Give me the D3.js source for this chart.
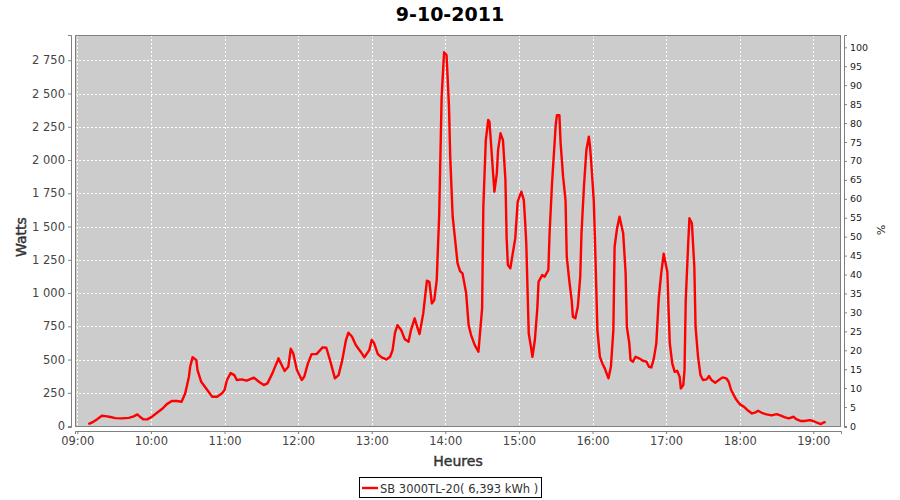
<!DOCTYPE html>
<html><head><meta charset="utf-8">
<script src="https://cdn.jsdelivr.net/npm/d3@7"></script>
<style>
html,body{margin:0;padding:0;background:#fff;}
svg{display:block;font-family:"DejaVu Sans",sans-serif;}
</style></head>
<body>
<svg id="chart" width="900" height="500"></svg>
<script>
const title = "9-10-2011";
const seriesName = "SB 3000TL-20( 6,393 kWh )";
const times = ["09:09","09:13","09:16","09:20","09:23","09:27","09:31","09:36","09:42","09:46","09:49","09:51","09:54","09:57","10:00","10:05","10:09","10:13","10:17","10:21","10:25","10:28","10:31","10:32","10:34","10:37","10:38","10:41","10:44","10:47","10:50","10:54","10:58","11:00","11:02","11:05","11:08","11:10","11:14","11:18","11:24","11:28","11:32","11:35","11:39","11:44","11:46","11:49","11:52","11:54","11:56","11:59","12:03","12:05","12:08","12:11","12:15","12:20","12:23","12:26","12:30","12:33","12:36","12:39","12:41","12:44","12:47","12:51","12:54","12:58","13:00","13:02","13:05","13:08","13:12","13:15","13:17","13:19","13:21","13:24","13:27","13:30","13:32","13:35","13:37","13:39","13:42","13:45","13:47","13:49","13:51","13:53","13:55","13:57","13:59","14:01","14:03","14:04","14:06","14:08","14:10","14:12","14:14","14:17","14:19","14:21","14:24","14:27","14:30","14:31","14:33","14:35","14:36","14:38","14:40","14:42","14:43","14:45","14:47","14:49","14:50","14:51","14:53","14:55","14:57","14:59","15:02","15:04","15:05","15:06","15:08","15:10","15:11","15:13","15:15","15:16","15:19","15:21","15:24","15:25","15:27","15:30","15:31","15:33","15:34","15:36","15:38","15:39","15:41","15:43","15:44","15:46","15:48","15:50","15:51","15:53","15:55","15:57","15:58","15:59","16:01","16:02","16:04","16:06","16:08","16:10","16:12","16:13","16:15","16:17","16:18","16:20","16:22","16:25","16:27","16:28","16:30","16:31","16:33","16:35","16:38","16:41","16:44","16:46","16:48","16:50","16:52","16:54","16:56","16:58","17:01","17:02","17:03","17:05","17:07","17:09","17:11","17:12","17:14","17:15","17:16","17:18","17:19","17:21","17:23","17:24","17:26","17:28","17:30","17:33","17:35","17:37","17:40","17:43","17:46","17:49","17:51","17:53","17:57","18:00","18:04","18:07","18:10","18:13","18:15","18:18","18:21","18:26","18:30","18:33","18:37","18:40","18:44","18:46","18:50","18:53","18:57","19:00","19:03","19:06","19:08","19:10"];
const watts = [15,32,50,78,75,68,60,58,62,73,88,70,50,50,65,100,128,165,188,188,183,246,371,446,518,496,421,333,296,258,220,220,246,271,346,398,383,346,351,341,364,333,308,321,396,509,471,414,446,581,547,421,346,371,471,541,541,592,589,496,359,383,496,647,702,671,609,559,517,571,647,622,541,517,501,521,571,702,759,722,652,634,722,810,747,692,847,1093,1085,922,947,1098,1587,2476,2810,2790,2401,2025,1574,1399,1223,1165,1148,998,759,684,609,559,885,1649,2150,2301,2288,2025,1762,1900,2075,2201,2150,1850,1411,1211,1186,1299,1411,1687,1762,1699,1549,1374,697,584,521,647,885,1085,1135,1123,1173,1449,1825,2263,2338,2338,2126,1875,1699,1273,1098,947,822,810,897,1123,1449,1799,2075,2175,2100,1975,1699,1398,722,521,471,434,383,359,446,722,1348,1486,1574,1449,1148,747,622,496,484,521,509,491,484,446,441,509,622,960,1148,1295,1160,872,622,471,408,416,371,283,308,421,947,1374,1562,1524,1198,747,521,383,346,351,376,346,326,346,366,359,333,271,201,165,141,115,95,103,115,100,90,80,90,80,65,58,70,53,38,38,45,38,25,15,25,32];
const wattTicks = [0,250,500,750,1000,1250,1500,1750,2000,2250,2500,2750];
const pctTicks = [0,5,10,15,20,25,30,35,40,45,50,55,60,65,70,75,80,85,90,95,100];
const hourTicks = ["09:00","10:00","11:00","12:00","13:00","14:00","15:00","16:00","17:00","18:00","19:00"];
const xLabel = "Heures", yLabel = "Watts", y2Label = "%";

const parse = d3.timeParse("%H:%M:%S");
const toDate = s => parse(s.length === 5 ? s + ":00" : s);
const data = times.map((t, i) => ({t: toDate(t), w: watts[i]}));

const svg = d3.select("#chart");
const L = 75, R = 841, T = 35, B = 427;

const x = d3.scaleTime().domain([toDate("08:58:07"), toDate("19:22:34")]).range([L, R]);
const y = d3.scaleLinear().domain([-7, 2940]).range([B, T]);
const y2 = d3.scaleLinear().domain([-0.26, 103.25]).range([B, T]);

const fmt = d3.format(",");
const wFmt = v => fmt(v).replace(/,/g, "\u00a0");

// plot background
svg.append("rect").attr("x", L).attr("y", T).attr("width", R - L).attr("height", B - T).attr("fill", "#cccccc");

// gridlines
const grid = svg.append("g").attr("stroke", "#ffffff").attr("stroke-width", 1).attr("stroke-dasharray", "2,2");
grid.selectAll("line.v").data(hourTicks).join("line")
  .attr("x1", d => Math.round(x(toDate(d))) + 0.5).attr("x2", d => Math.round(x(toDate(d))) + 0.5)
  .attr("y1", T).attr("y2", B);
grid.selectAll("line.h").data(wattTicks).join("line")
  .attr("x1", L).attr("x2", R)
  .attr("y1", d => Math.round(y(d)) + 0.5).attr("y2", d => Math.round(y(d)) + 0.5);

// outline
svg.append("rect").attr("x", L + 0.5).attr("y", T + 0.5).attr("width", R - L - 1).attr("height", B - T - 1)
  .attr("fill", "none").attr("stroke", "#808080").attr("stroke-width", 1);

// line
const line = d3.line().x(d => x(d.t)).y(d => y(d.w)).curve(d3.curveLinear);
svg.append("path").datum(data).attr("d", line).attr("fill", "none")
  .attr("stroke", "#ff0000").attr("stroke-width", 2.4).attr("stroke-linejoin", "round");

// axes
function styleAxis(g, color, size) {
  g.select(".domain").attr("stroke", "#808080");
  g.selectAll(".tick line").attr("stroke", "#808080");
  g.selectAll(".tick text").attr("fill", color).style("font-size", size).style("font-family", "DejaVu Sans");
}
const xAxis = d3.axisBottom(x).tickValues(hourTicks.map(toDate)).tickFormat(d3.timeFormat("%H:%M")).tickSizeOuter(0).tickSize(3).tickPadding(3);
svg.append("g").attr("transform", "translate(0,431)").call(xAxis).call(g => styleAxis(g, "#444444", "11.5px"));

const yAxis = d3.axisLeft(y).tickValues(wattTicks).tickFormat(wFmt).tickSizeOuter(0).tickSize(3).tickPadding(3);
svg.append("g").attr("transform", "translate(71,0)").call(yAxis).call(g => styleAxis(g, "#444444", "11.5px"));

const y2Axis = d3.axisRight(y2).tickValues(pctTicks).tickSizeOuter(0).tickSize(3).tickPadding(3);
svg.append("g").attr("transform", "translate(844,0)").call(y2Axis).call(g => styleAxis(g, "#222222", "9.5px"));

// labels
svg.append("text").attr("x", 450).attr("y", 21).attr("text-anchor", "middle")
  .style("font-size", "19px").style("font-weight", "bold").attr("fill", "#000").text(title);
svg.append("text").attr("x", 458).attr("y", 465.5).attr("text-anchor", "middle")
  .style("font-size", "14px").attr("fill", "#333").attr("stroke", "#333").attr("stroke-width", 0.45).text(xLabel);
svg.append("text").attr("transform", "translate(26,237) rotate(-90)").attr("text-anchor", "middle")
  .style("font-size", "14px").attr("fill", "#333").attr("stroke", "#333").attr("stroke-width", 0.45).text(yLabel);
svg.append("text").attr("transform", "translate(877,230) rotate(90)").attr("text-anchor", "middle")
  .style("font-size", "11px").attr("fill", "#222").text(y2Label);

// legend
const lg = svg.append("g");
lg.append("rect").attr("x", 359.5).attr("y", 477.5).attr("width", 182).attr("height", 20)
  .attr("fill", "#fff").attr("stroke", "#000").attr("stroke-width", 1);
lg.append("line").attr("x1", 362).attr("x2", 378).attr("y1", 488).attr("y2", 488)
  .attr("stroke", "#ff0000").attr("stroke-width", 2.4);
lg.append("text").attr("x", 380).attr("y", 492.5).style("font-size", "11.5px").attr("fill", "#333").text(seriesName);
</script>
</body></html>
